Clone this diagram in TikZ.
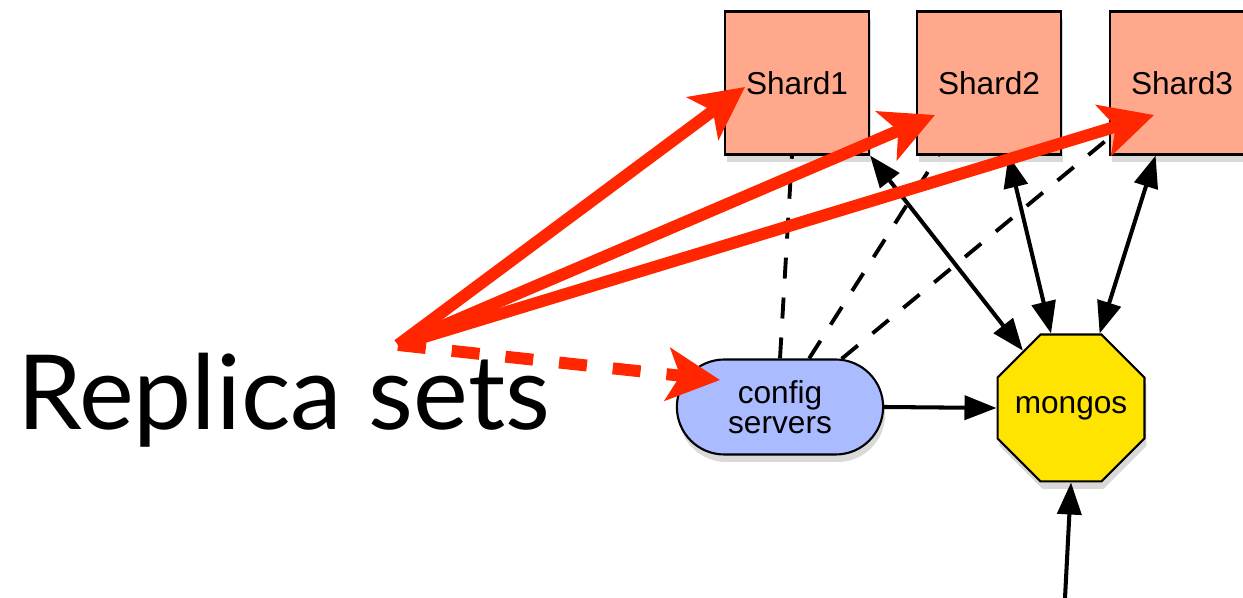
\documentclass[tikz,border=0pt]{standalone}
\usepackage{fontspec}
\setmainfont{Liberation Sans}
\newfontfamily\bigfont{Lato}
\usepackage{tikz}
\usetikzlibrary{arrows.meta,positioning,shapes.geometric,shapes.misc,shadows}
\definecolor{shardsalmon}{RGB}{255,168,140}
\definecolor{cfgblue}{RGB}{170,187,255}
\definecolor{mongoyellow}{RGB}{255,228,0}
\definecolor{rsred}{RGB}{255,38,0}

\begin{document}
\begin{tikzpicture}[
    softshadow/.style={drop shadow={shadow xshift=0.4mm, shadow yshift=-1.5mm, opacity=0.3}},
    shardbox/.style={draw, line width=1.2pt, fill=shardsalmon, minimum width=2.88cm,
      minimum height=2.86cm, inner sep=0pt, font=\fontsize{18}{20}\selectfont, softshadow},
    >={Triangle[length=6.4mm, width=4.8mm]},
    link/.style={line width=2.3pt, <->},
    cfglink/.style={line width=2.2pt, dash pattern=on 4.2mm off 3.8mm},
    redarrow/.style={rsred, line width=6.8pt, -{Stealth[length=10.5mm, width=10.5mm, inset=2.5mm]}}
  ]
    \useasboundingbox (0,0) rectangle (24.86,11.96);

    % shards
    \node[shardbox] (s1) at (15.94,10.30) {Shard1};
    \node[shardbox] (s2) at (19.78,10.30) {Shard2};
    \node[shardbox] (s3) at (23.64,10.30) {Shard3};

    % config servers and router
    \node[draw, line width=1.2pt, fill=cfgblue, rounded rectangle, minimum width=4.36cm,
      minimum height=1.9cm, align=center, font=\fontsize{18}{17}\selectfont, softshadow]
      (cfg) at (15.60,3.82) {config\\servers};
    \node[draw, line width=1.2pt, fill=mongoyellow, regular polygon, regular polygon sides=8,
      minimum size=3.18cm, inner sep=0pt, font=\fontsize{18}{20}\selectfont, softshadow]
      (mongos) at (21.42,3.80) {\makebox[0pt]{mongos}};

    \node[anchor=base west, inner sep=0pt, font=\bigfont\fontsize{59}{64}\selectfont]
      (rstext) at (0.34,3.36) {Replica sets};

    \coordinate (client) at (21.30,0);
    \coordinate (rs) at (7.96,5.06);
    \coordinate (t1) at (14.90,10.22);
    \coordinate (t2) at (18.70,9.66);
    \coordinate (t3) at (23.08,9.66);
    \coordinate (tc) at (14.40,4.36);

    % config servers talk to every shard
    \draw[cfglink] (cfg.north) -- (s1.-94);
    \draw[cfglink] (cfg.59) -- (s2.-125);
    \draw[cfglink] (cfg.38) -- (s3.217);

    % router links
    \draw[link] (s1.south east) -- (mongos.130);
    \draw[link] (s2.-75) -- (mongos.105);
    \draw[link] (s3.-110) -- (mongos.69);
    \draw[line width=2.3pt, ->] (cfg.east) -- (mongos.west);
    \draw[line width=2.3pt, ->] (client) -- (mongos.south);

    % replica set callouts
    \draw[redarrow] (rs) -- (t1);
    \draw[redarrow] (rs) -- (t2);
    \draw[redarrow] (rs) -- (t3);
    \draw[redarrow, dash pattern=on 5.6mm off 5.2mm] (rs) -- (tc);
  \end{tikzpicture}
\end{document}
